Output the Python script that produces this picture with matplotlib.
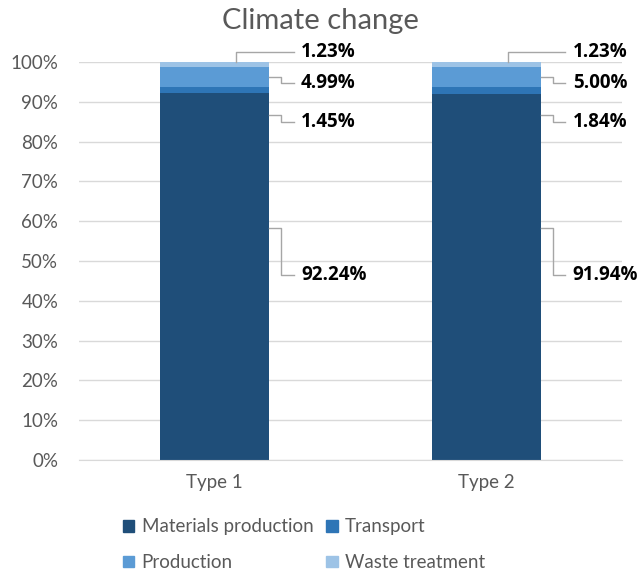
import matplotlib.pyplot as plt
import matplotlib.patches as mpatches

plt.rcParams['font.family'] = ['Lato', 'DejaVu Sans']

types = ['Type 1', 'Type 2']
stages = ['Materials production', 'Transport', 'Production', 'Waste treatment']
materials = [92.24, 91.94]
transport = [1.45, 1.84]
production = [4.99, 5.00]
waste = [1.23, 1.23]
colors = ['#1F4E79', '#2E75B6', '#5B9BD5', '#9DC3E6']

# label height (fraction) and where the leader touches the bar
label_y = [0.465, 0.849, 0.947, 1.025]
leader_y = [0.583, 0.867, 0.962, None]

fig = plt.figure(figsize=(6.4, 5.77), dpi=100)
ax = fig.add_axes([0.1234, 0.2028, 0.8486, 0.6897])

series = [materials, transport, production, waste]
x = list(range(len(types)))
bottom = [0.0, 0.0]
width = 0.4
for vals, col, name in zip(series, colors, stages):
    fr = [v / 100 for v in vals]
    ax.bar(x, fr, width, bottom=bottom, color=col, label=name, zorder=2)
    bottom = [b + f for b, f in zip(bottom, fr)]

# value labels with elbow leader lines
lc = '#A6A6A6'
for i in x:
    right = i + width / 2
    kx = right + 0.045
    tx = right + 0.09
    for k, vals in enumerate(series):
        ly = label_y[k]
        if leader_y[k] is None:
            px = i + 0.08
            top = sum(s[i] for s in series) / 100
            ax.plot([px, px, tx], [top, ly, ly], color=lc, lw=1,
                    clip_on=False, zorder=3)
        else:
            sy = leader_y[k]
            ax.plot([right, kx, kx, tx], [sy, sy, ly, ly], color=lc, lw=1,
                    clip_on=False, zorder=3)
        ax.text(tx + 0.028, ly, f'{vals[i]:.2f}%', fontsize=13.5,
                fontweight='bold', family=['Open Sans', 'DejaVu Sans'],
                color='#000000', va='center', ha='left')

ax.set_xlim(-0.5, 1.5)
ax.set_ylim(0, 1)
ax.set_yticks([j / 10 for j in range(11)])
ax.set_yticklabels([f'{j * 10}%' for j in range(11)])
ax.set_xticks(x)
ax.set_xticklabels(types)
ax.tick_params(axis='both', length=0, labelsize=13.5, labelcolor='#595959')
ax.tick_params(axis='y', pad=15)
ax.tick_params(axis='x', pad=10)
ax.grid(axis='y', color='#D9D9D9', lw=1, zorder=0)
for s in ['top', 'right', 'left']:
    ax.spines[s].set_visible(False)
ax.spines['bottom'].set_color('#D9D9D9')

fig.text(0.5, 0.963, 'Climate change', ha='center', va='center',
         fontsize=21, color='#595959')

handles = [mpatches.Patch(color=c) for c in colors]
order = [0, 2, 1, 3]
fig.legend([handles[o] for o in order], [stages[o] for o in order],
           ncol=2, loc='center', bbox_to_anchor=(0.475, 0.056), frameon=False,
           fontsize=13.5, labelcolor='#595959', handlelength=0.6,
           handleheight=0.6, handletextpad=0.4, columnspacing=0.7,
           labelspacing=1.0)

fig.savefig('out.png', dpi=100)
